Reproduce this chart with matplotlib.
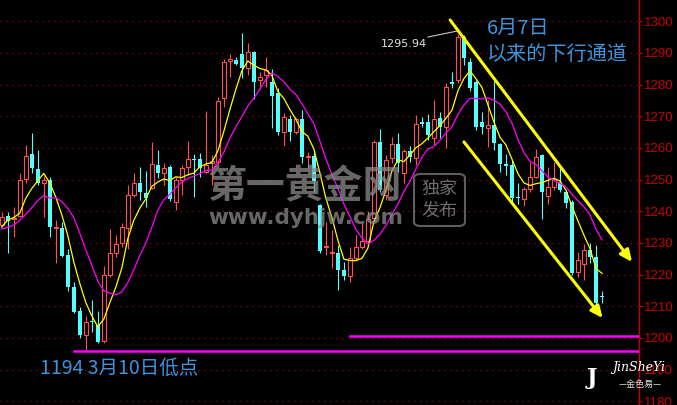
import numpy as np
import pandas as pd
import matplotlib.pyplot as plt
from matplotlib.patches import FancyBboxPatch

plt.rcParams['font.family'] = ['Noto Sans CJK SC', 'DejaVu Sans']

# daily gold candles (oldest first)
opens = [1235.7, 1238.5, 1237.6, 1238.5, 1250.2, 1258.1, 1253.4, 1248.9, 1249.9, 1234.8,
         1234.7, 1226.2, 1216.1, 1208.5, 1200.9, 1205.3, 1204.1, 1199.0, 1219.9, 1226.8,
         1230.0, 1234.7, 1245.2, 1248.9, 1245.8, 1247.4, 1254.6, 1252.1, 1254.0, 1242.9,
         1249.9, 1254.0, 1256.6, 1256.5, 1252.4, 1255.4, 1255.6, 1275.8, 1287.6, 1287.8,
         1289.7, 1285.3, 1290.3, 1281.5, 1283.0, 1280.8, 1277.4, 1265.0, 1269.2, 1265.0,
         1269.2, 1257.0, 1257.5, 1242.0, 1228.6, 1226.7, 1226.8, 1221.5, 1219.6, 1225.3,
         1228.7, 1230.6, 1237.9, 1261.9, 1245.2, 1256.8, 1261.3, 1252.1, 1259.0, 1256.8,
         1268.1, 1268.2, 1263.2, 1269.5, 1266.6, 1280.7, 1281.5, 1295.0, 1287.2, 1280.8,
         1268.2, 1266.3, 1267.3, 1261.3, 1254.8, 1254.6, 1244.6, 1243.9, 1247.1, 1250.8,
         1257.8, 1244.8, 1247.7, 1249.3, 1246.1, 1242.9, 1220.8, 1223.4, 1227.8, 1225.6,
         1213.1]
highs = [1239.8, 1239.8, 1241.4, 1252.1, 1261.0, 1264.7, 1259.4, 1251.2, 1250.8, 1237.3,
         1236.6, 1228.1, 1217.7, 1209.8, 1206.9, 1212.0, 1208.5, 1222.7, 1234.4, 1232.5,
         1236.3, 1248.3, 1252.1, 1254.0, 1252.7, 1261.9, 1259.4, 1255.3, 1254.6, 1250.8,
         1254.6, 1262.2, 1258.1, 1258.4, 1271.7, 1257.8, 1276.1, 1288.1, 1289.7, 1288.7,
         1296.3, 1293.2, 1290.5, 1284.0, 1288.7, 1284.9, 1278.9, 1271.0, 1270.4, 1269.5,
         1272.0, 1258.7, 1259.4, 1242.3, 1236.6, 1234.1, 1229.4, 1224.0, 1228.7, 1232.5,
         1236.3, 1240.1, 1262.5, 1266.0, 1257.8, 1263.5, 1264.7, 1259.7, 1260.6, 1270.4,
         1269.8, 1270.7, 1275.2, 1271.4, 1280.5, 1284.0, 1295.94, 1295.7, 1288.5, 1281.5,
         1271.4, 1275.2, 1281.1, 1261.6, 1258.1, 1256.2, 1248.9, 1247.7, 1255.6, 1259.7,
         1258.1, 1254.0, 1255.6, 1254.0, 1246.7, 1243.6, 1227.2, 1229.7, 1230.0, 1229.4,
         1214.8]
lows = [1235.0, 1226.8, 1231.9, 1238.2, 1248.9, 1252.1, 1248.3, 1238.2, 1231.9, 1223.7,
        1225.6, 1214.8, 1207.9, 1200.0, 1196.0, 1201.9, 1198.4, 1198.4, 1219.3, 1225.6,
        1228.7, 1228.1, 1244.5, 1243.6, 1241.4, 1247.1, 1250.5, 1248.3, 1243.3, 1240.4,
        1245.2, 1251.5, 1244.5, 1250.8, 1252.1, 1248.3, 1254.6, 1272.9, 1282.4, 1286.2,
        1282.1, 1283.0, 1275.5, 1278.6, 1279.3, 1266.3, 1264.1, 1260.6, 1262.2, 1264.4,
        1255.3, 1253.4, 1246.1, 1226.8, 1226.2, 1222.1, 1215.2, 1218.3, 1217.7, 1224.6,
        1228.1, 1230.0, 1236.6, 1246.1, 1243.6, 1255.3, 1252.4, 1248.9, 1255.6, 1254.6,
        1266.6, 1262.5, 1261.0, 1263.2, 1260.0, 1278.9, 1280.5, 1286.2, 1278.0, 1265.6,
        1264.4, 1260.3, 1259.4, 1252.4, 1251.5, 1242.0, 1242.3, 1241.7, 1246.1, 1250.5,
        1237.6, 1242.3, 1246.7, 1246.1, 1241.1, 1219.9, 1219.3, 1218.3, 1223.7, 1209.8,
        1211.1]
closes = [1238.2, 1237.0, 1237.9, 1249.9, 1257.5, 1253.7, 1248.9, 1249.9, 1235.0, 1235.2,
          1225.9, 1216.1, 1208.2, 1200.9, 1205.1, 1204.9, 1198.7, 1219.9, 1226.8, 1229.7,
          1235.0, 1245.2, 1248.9, 1246.1, 1244.2, 1254.9, 1252.1, 1253.7, 1243.9, 1249.9,
          1253.7, 1256.5, 1256.3, 1253.7, 1254.6, 1255.8, 1274.8, 1287.2, 1288.0, 1286.5,
          1285.3, 1290.3, 1280.8, 1282.4, 1284.6, 1276.4, 1265.0, 1269.8, 1265.0, 1269.2,
          1257.2, 1257.4, 1249.6, 1227.5, 1228.9, 1227.0, 1221.5, 1219.6, 1225.3, 1228.7,
          1230.6, 1237.6, 1261.9, 1246.7, 1256.2, 1261.3, 1255.3, 1259.0, 1257.2, 1267.6,
          1267.7, 1264.1, 1269.2, 1266.6, 1279.3, 1280.3, 1295.0, 1288.5, 1278.9, 1266.6,
          1266.6, 1267.3, 1261.6, 1254.9, 1254.4, 1244.2, 1244.3, 1247.1, 1250.8, 1257.2,
          1246.1, 1247.7, 1250.2, 1246.7, 1242.6, 1220.5, 1224.6, 1227.8, 1225.6, 1211.1,
          1212.9]
# closes left of the visible window, only used to seed the moving averages
prior_closes = [1232, 1230, 1236, 1238, 1233, 1226, 1234, 1243, 1234]

peak_label = '1295.94'
support_levels = [1200.5, 1195.8]
support_start = [58, 12]
yticks = list(range(1180, 1310, 10))
# channel arrows: (start index, start price) -> (end index, end price)
channel = [((74.7, 1300.4), (105.0, 1224.0)),
           ((77.0, 1261.9), (100.1, 1206.3))]

RED = '#ff4f4f'
CYAN = '#54ffff'
AXRED = '#c80000'
BLUE = '#3d94dc'

W, H = 677, 405
fig = plt.figure(figsize=(W / 100, H / 100), dpi=100, facecolor='black')
ax = fig.add_axes([0, 0, 639 / W, 1])
ax.set_facecolor('black')

o = np.array(opens)
h = np.array(highs)
l = np.array(lows)
c = np.array(closes)
x = np.arange(len(c))
up = c >= o

# candles: hollow red for up days, filled cyan for down days
ax.vlines(x, l, h, colors=np.where(up, RED, CYAN), lw=0.8, zorder=2, snap=True)
ax.bar(x[up], np.maximum(c - o, 0.3)[up], bottom=o[up], width=0.66,
       facecolor='black', edgecolor=RED, lw=0.8, zorder=3)
ax.bar(x[~up], np.maximum(o - c, 0.35)[~up], bottom=c[~up], width=0.66,
       color=CYAN, lw=0, zorder=3)

# moving averages
s = pd.Series(prior_closes + closes)
n0 = len(prior_closes)
ma5 = s.rolling(5).mean().values[n0:]
ma10 = s.rolling(10).mean().values[n0:]
ax.plot(x, ma5, color='#ffff00', lw=0.9, zorder=4)
ax.plot(x, ma10, color='#ff00ff', lw=0.9, zorder=4)

# support lines
for lvl, st in zip(support_levels, support_start):
    ax.plot([st, 106.0], [lvl, lvl], color='#ff00ff', lw=1.8, zorder=4)

# channel arrows
for (p0, p1) in channel:
    ax.annotate('', xy=p1, xytext=p0,
                arrowprops=dict(arrowstyle='-|>,head_length=0.7,head_width=0.32',
                                color='#ffff00', lw=2.2, shrinkA=0, shrinkB=0),
                zorder=5)

# peak label
ax.plot([71.0, 75.8], [1295.04, 1296.9], color='#c8c8c8', lw=0.8, zorder=5)
ax.text(70.9, 1292.8, peak_label, color='#e0e0e0', fontsize=8, ha='right',
        va='center', family='DejaVu Sans', zorder=6)

ax.set_xlim(-0.283, 106.16)
ax.set_ylim(1178.84, 1306.73)
ax.set_yticks(yticks)
for t in yticks:
    ax.axhline(t, color='#a00000', lw=0.8, dashes=(1.2, 4.2), zorder=1)

ax.yaxis.tick_right()
ax.tick_params(axis='y', colors=AXRED, labelsize=9.5, length=2, pad=1.5, width=0.8)
for lab in ax.get_yticklabels():
    lab.set_family('Liberation Sans')
ax.set_xticks([])
for side in ['top', 'bottom', 'left']:
    ax.spines[side].set_visible(False)
ax.spines['right'].set_color(AXRED)
ax.spines['right'].set_linewidth(1)

# annotations
fig.text(487 / W, 1 - 28 / H, '6月7日', color=BLUE, fontsize=14.5, ha='left', va='center')
fig.text(487 / W, 1 - 55 / H, '以来的下行通道', color=BLUE, fontsize=14.5, ha='left', va='center')
fig.text(40 / W, 1 - 368 / H, '1194 3月10日低点', color=BLUE, fontsize=14, ha='left', va='center')

# watermark
fig.text(208 / W, 1 - 187 / H, '第一黄金网', color='#8a8a8a', alpha=0.75, fontsize=28,
         fontweight='bold', ha='left', va='center')
fig.text(208 / W, 1 - 218 / H, 'www.dyhjw.com', color='#8a8a8a', alpha=0.75, fontsize=15.5,
         family='DejaVu Sans', fontweight='bold', ha='left', va='center')
box = FancyBboxPatch((414 / W, 1 - 226 / H), 51 / W, 52 / H,
                     boxstyle='round,pad=0,rounding_size=0.01', transform=fig.transFigure,
                     facecolor='none', edgecolor='#777777', lw=1.5, alpha=0.8)
fig.patches.append(box)
fig.text(439.5 / W, 1 - 189 / H, '独家', color='#8a8a8a', alpha=0.8, fontsize=13,
         ha='center', va='center')
fig.text(439.5 / W, 1 - 211 / H, '发布', color='#8a8a8a', alpha=0.8, fontsize=13,
         ha='center', va='center')

# logo
fig.text(592 / W, 1 - 378 / H, 'J', color='white', fontsize=16, fontweight='bold',
         family='DejaVu Serif', ha='center', va='center')
fig.text(612 / W, 1 - 367 / H, 'JinSheYi', color='white', fontsize=9, style='italic',
         family='DejaVu Serif', ha='left', va='center')
fig.text(640 / W, 1 - 384 / H, '—金色易—', color='#dddddd', fontsize=6.5,
         ha='center', va='center')

fig.savefig('out.png', dpi=100, facecolor='black')
